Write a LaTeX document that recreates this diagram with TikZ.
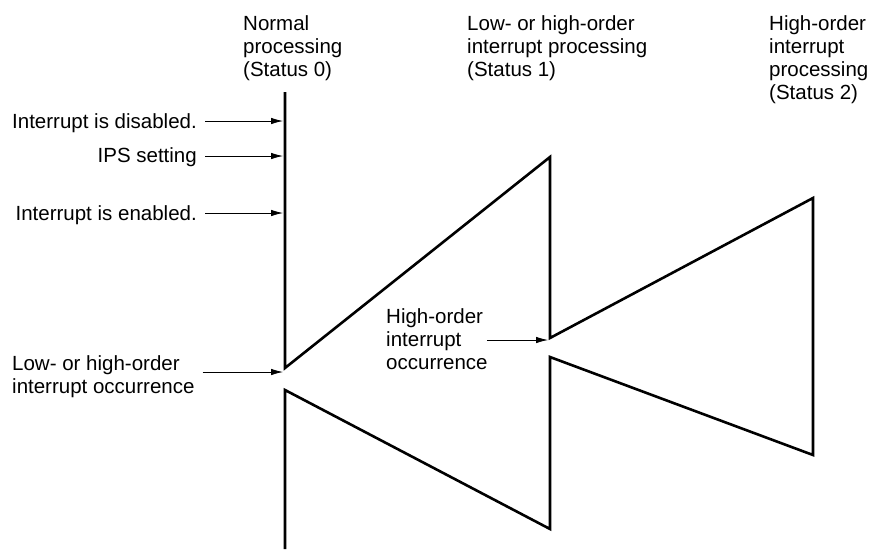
\documentclass[tikz,border=0pt]{standalone}
\usepackage{fontspec}
\setmainfont{Liberation Sans}
\usetikzlibrary{arrows.meta}

\tikzset{
  lbl/.style={font=\fontsize{20.5}{23}\selectfont, inner sep=0pt, align=left},
  status/.style={line width=2.6pt, line join=miter},
  event/.style={-{Latex[length=12pt,width=6.5pt]}, line width=0.8pt}
}

\begin{document}
\begin{tikzpicture}[x=1pt, y=-1pt]
    \useasboundingbox (0,0) rectangle (872,549);

    % Punts de la linia de processament
    \coordinate (s0top) at (285,92);
    \coordinate (occ1) at (285,368);
    \coordinate (p1top) at (550,157);
    \coordinate (occ2) at (550,338);
    \coordinate (p2top) at (813,198);
    \coordinate (p2bot) at (813,455);
    \coordinate (ret1) at (550,357);
    \coordinate (p1bot) at (550,529);
    \coordinate (ret0) at (285,390);
    \coordinate (s0bot) at (285,549);

    % Linia dels estats
    \draw[status] (s0top) -- (occ1) -- (p1top) -- (occ2) -- (p2top)
        -- (p2bot) -- (ret1) -- (p1bot) -- (ret0) -- (s0bot);

    % Titols dels estats
    \node[lbl, anchor=north west] (st0) at (243,15) {Normal\\processing\\(Status 0)};
    \node[lbl, anchor=north west] (st1) at (467,15) {Low- or high-order\\interrupt processing\\(Status 1)};
    \node[lbl, anchor=north west] (st2) at (769,15) {High-order\\interrupt\\processing\\(Status 2)};

    % Esdeveniments
    \node[lbl, anchor=north east] (dis) at (197,113) {Interrupt is disabled.};
    \node[lbl, anchor=north east] (ips) at (197,147) {IPS setting};
    \node[lbl, anchor=north east] (ena) at (197,205) {Interrupt is enabled.};
    \node[lbl, anchor=north west] (low) at (12,355) {Low- or high-order\\interrupt occurrence};
    \node[lbl, anchor=north west] (high) at (386,308) {High-order\\interrupt\\occurrence};

    % Fletxes cap a la linia
    \coordinate (a1) at (283,121);
    \coordinate (a2) at (283,156);
    \coordinate (a3) at (283,213);
    \coordinate (a4) at (283,372);
    \coordinate (a5) at (548,340);
    \draw[event] ([xshift=8pt] dis.east |- a1) -- (a1);
    \draw[event] ([xshift=8pt] ips.east |- a2) -- (a2);
    \draw[event] ([xshift=8pt] ena.east |- a3) -- (a3);
    \draw[event] ([xshift=8pt] low.east |- a4) -- (a4);
    \draw[event] ([xshift=-1pt] high.east |- a5) -- (a5);
\end{tikzpicture}
\end{document}
